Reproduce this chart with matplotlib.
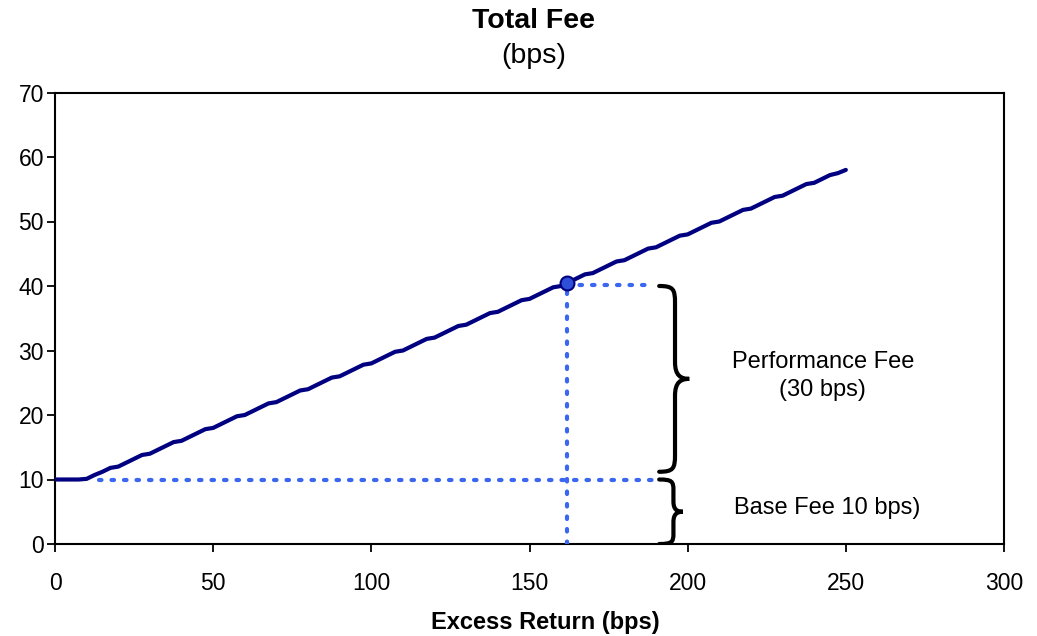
import matplotlib
matplotlib.use("Agg")
import matplotlib.pyplot as plt
from matplotlib.path import Path
from matplotlib.patches import PathPatch

plt.rcParams['font.family'] = ['Liberation Sans', 'DejaVu Sans']

# ---- data ----
excess_return = [0, 2.5, 5, 7.5, 10, 12.5, 15, 17.5, 20, 22.5, 25, 27.5, 30,
                 32.5, 35, 37.5, 40, 42.5, 45, 47.5, 50, 52.5, 55, 57.5, 60,
                 62.5, 65, 67.5, 70, 72.5, 75, 77.5, 80, 82.5, 85, 87.5, 90,
                 92.5, 95, 97.5, 100, 102.5, 105, 107.5, 110, 112.5, 115, 117.5, 120,
                 122.5, 125, 127.5, 130, 132.5, 135, 137.5, 140, 142.5, 145, 147.5, 150,
                 152.5, 155, 157.5, 160, 162.5, 165, 167.5, 170, 172.5, 175, 177.5, 180,
                 182.5, 185, 187.5, 190, 192.5, 195, 197.5, 200, 202.5, 205, 207.5, 210,
                 212.5, 215, 217.5, 220, 222.5, 225, 227.5, 230, 232.5, 235, 237.5, 240,
                 242.5, 245, 247.5, 250]
total_fee = [10, 10, 10, 10, 10.1, 10.7, 11.2, 11.8, 12.0, 12.6, 13.2, 13.8, 14.0,
             14.6, 15.2, 15.8, 16.0, 16.6, 17.2, 17.8, 18.0, 18.6, 19.2, 19.8, 20.0,
             20.6, 21.2, 21.8, 22.0, 22.6, 23.2, 23.8, 24.0, 24.6, 25.2, 25.8, 26.0,
             26.6, 27.2, 27.8, 28.0, 28.6, 29.2, 29.8, 30.0, 30.6, 31.2, 31.8, 32.0,
             32.6, 33.2, 33.8, 34.0, 34.6, 35.2, 35.8, 36.0, 36.6, 37.2, 37.8, 38.0,
             38.6, 39.2, 39.8, 40.0, 40.6, 41.2, 41.8, 42.0, 42.6, 43.2, 43.8, 44.0,
             44.6, 45.2, 45.8, 46.0, 46.6, 47.2, 47.8, 48.0, 48.6, 49.2, 49.8, 50.0,
             50.6, 51.2, 51.8, 52.0, 52.6, 53.2, 53.8, 54.0, 54.6, 55.2, 55.8, 56.0,
             56.6, 57.2, 57.5, 58.0]
highlight_x = 162
highlight_y = 40.4
base_fee = 10
x_ticks = [0, 50, 100, 150, 200, 250, 300]
y_ticks = [0, 10, 20, 30, 40, 50, 60, 70]
perf_label = "Performance Fee\n(30 bps)"
base_label = "Base Fee 10 bps)"

fig = plt.figure(figsize=(10.37, 6.36), dpi=100)
ax = fig.add_axes([55/1037, 1-544/636, (1004-55)/1037, (544-92.5)/636])

line_color = '#000080'
dot_color = '#3a66f0'

ax.plot(excess_return, total_fee, color=line_color, lw=3, solid_capstyle='round',
        solid_joinstyle='round', zorder=4)

dot_style = dict(color=dot_color, lw=3, linestyle=(0, (0.6, 2.4)),
                 dash_capstyle='round', zorder=3)
ax.plot([14, 190], [base_fee, base_fee], **dot_style)
ax.plot([highlight_x, 188], [highlight_y - 0.3, highlight_y - 0.3], **dot_style)
ax.plot([highlight_x, highlight_x], [0, highlight_y], **dot_style)
ax.plot([highlight_x], [highlight_y], 'o', ms=10, mfc='#2f4fd8', mec=line_color,
        mew=1.5, zorder=5)


def brace(ax, x0, xv, xtip, ytop, ybot, r):
    ymid = (ytop + ybot) / 2
    verts = [
        (x0, ytop),
        (xv - (xv - x0) * 0.1, ytop), (xv, ytop - r * 0.2), (xv, ytop - r),
        (xv, ymid + r),
        (xv, ymid + r * 0.2), (xv + (xtip - xv) * 0.4, ymid), (xtip, ymid),
        (xv + (xtip - xv) * 0.4, ymid), (xv, ymid - r * 0.2), (xv, ymid - r),
        (xv, ybot + r),
        (xv, ybot + r * 0.2), (xv - (xv - x0) * 0.1, ybot), (x0, ybot),
    ]
    codes = [Path.MOVETO,
             Path.CURVE4, Path.CURVE4, Path.CURVE4,
             Path.LINETO,
             Path.CURVE4, Path.CURVE4, Path.CURVE4,
             Path.CURVE4, Path.CURVE4, Path.CURVE4,
             Path.LINETO,
             Path.CURVE4, Path.CURVE4, Path.CURVE4]
    ax.add_patch(PathPatch(Path(verts, codes), fill=False, lw=3,
                           edgecolor='black', capstyle='round', zorder=4))


brace(ax, 191, 196, 200.5, 40, 11.2, 2.6)
brace(ax, 191, 195.5, 198.5, 10, 0, 1.6)

ax.text(242.7, 26, perf_label, ha='center', va='center', fontsize=17,
        linespacing=1.35)
ax.text(244, 5.6, base_label, ha='center', va='center', fontsize=17)

ax.set_xlim(0, 300)
ax.set_ylim(0, 70)
ax.set_xticks(x_ticks)
ax.set_yticks(y_ticks)
ax.tick_params(axis='both', direction='out', length=6, width=1.3, labelsize=16.5)
ax.tick_params(axis='x', pad=14)
ax.tick_params(axis='y', pad=2)
for s in ax.spines.values():
    s.set_linewidth(1.5)

fig.text(534/1037, 1-21/636, "Total Fee", ha='center', va='center',
         fontsize=20.5, fontweight='bold')
fig.text(534/1037, 1-56/636, "(bps)", ha='center', va='center', fontsize=20.5)
fig.text(545/1037, 1-623/636, "Excess Return (bps)", ha='center', va='center',
         fontsize=17, fontweight='bold')

fig.savefig("out.png", dpi=100)
